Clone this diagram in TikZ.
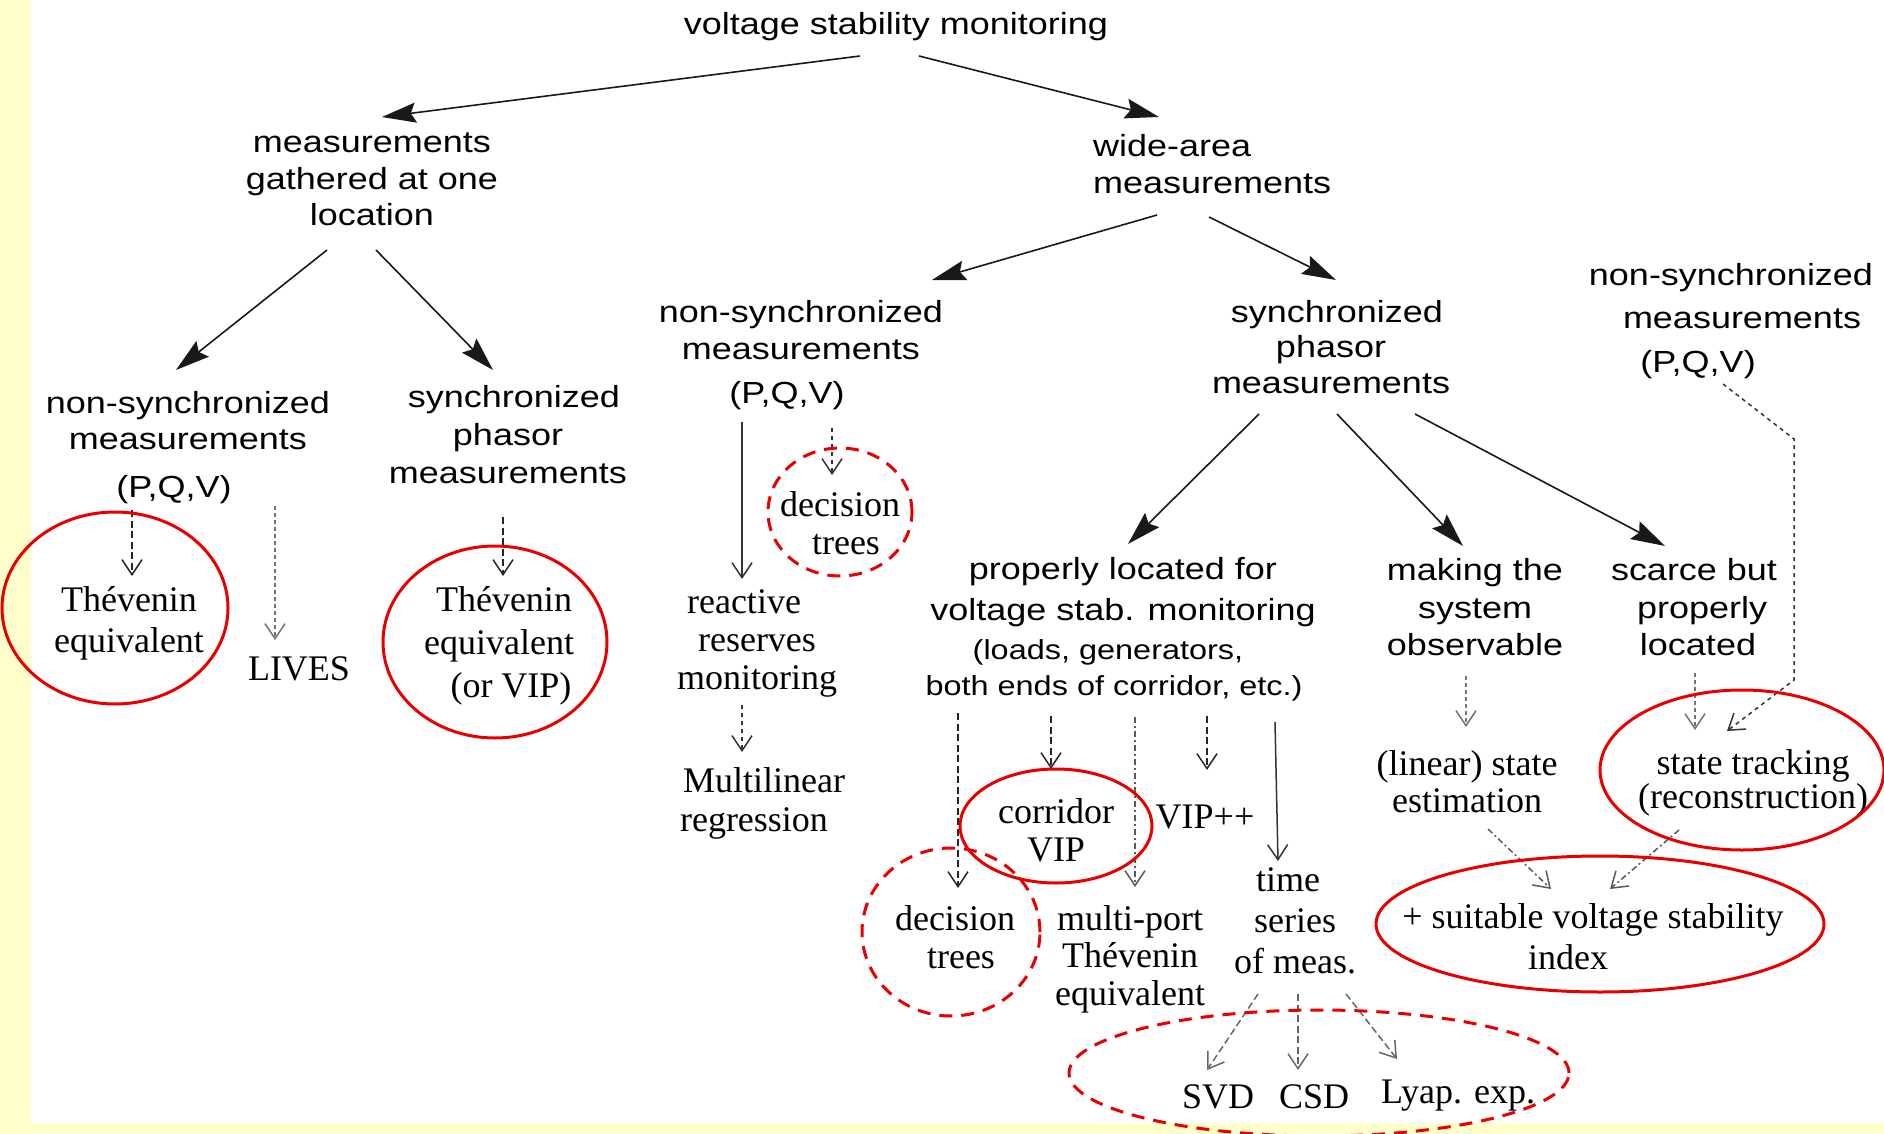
\documentclass[tikz,border=0pt]{standalone}
\usepackage{fontspec}
\setmainfont{Liberation Serif}
\newfontfamily\sansfam[FakeStretch=1.18]{Liberation Sans}
\usetikzlibrary{arrows.meta,calc}
\definecolor{paleyellow}{HTML}{FFFFCC}
\definecolor{ringred}{RGB}{232,0,0}

\begin{document}
\begin{tikzpicture}[x=1pt,y=-1pt,
  label base/.style={align=center, inner sep=0pt,
             execute at begin node=\strut, execute at end node=\strut},
  sn/.style={label base, font=\sansfam\fontsize{30.5}{#1}\selectfont},
  sn/.default=37,
  snsmall/.style={label base, font=\sansfam\fontsize{27.5}{#1}\selectfont},
  snsmall/.default=36,
  rm/.style={label base, font=\fontsize{36}{#1}\selectfont},
  rm/.default=39,
  tree/.style={draw=black!90, line width=1.6pt, -{Stealth[length=34pt,width=20pt,inset=5pt]}},
  lead/.style={line width=1.5pt, -{Straight Barb[length=15pt,width=20pt]}},
  dashedlead/.style={lead, draw=black!85, dash pattern=on 7pt off 3.5pt},
  dottedlead/.style={lead, draw=black!55, dash pattern=on 3.5pt off 3.5pt},
  finelead/.style={lead, draw=black!80, dash pattern=on 4pt off 4pt},
  dashdotlead/.style={lead, draw=black!65, dash pattern=on 6pt off 3pt on 2pt off 3pt},
  solidlead/.style={lead, draw=black!80},
  ring/.style={draw=ringred, line width=3pt},
  dashring/.style={ring, dash pattern=on 13pt off 9pt},
]
\useasboundingbox (0,0) rectangle (1884,1134);
\clip (0,0) rectangle (1884,1134);

% page background with the yellow frame on the left and at the bottom
\fill[paleyellow] (0,0) rectangle (1884,1134);
\fill[white] (31,0) rectangle (1884,1123);

% ---------- upper levels (sans serif) ----------
\node[sn] (title) at (896,27) {voltage stability monitoring};
\node[sn=36.5] (mg) at (372,185) {measurements\\gathered at one\\location};
\node[sn, align=left, anchor=west] (wa) at (1093,170) {wide-area\\measurements};
\node[sn=36] (ns1) at (188,450) {non-synchronized\\measurements\\[12pt](P,Q,V)\hspace*{28pt}};
\node[sn=38] (sp1) at (508,440) {\hspace*{12pt}synchronized\\phasor\hspace*{12pt}\\measurements};
\node[sn] (ns2) at (801,357) {non-synchronized\\measurements\\[7pt](P,Q,V)\hspace*{28pt}};
\node[sn=35.5] (sp2) at (1331,352) {\hspace*{12pt}synchronized\\phasor\hspace*{12pt}\\measurements};
\node[sn=43.5] (ns3) at (1731,324) {non-synchronized\\\hspace*{22pt}measurements\\(P,Q,V)\hspace*{66pt}};
\node[sn=41] (plo) at (1123,595) {properly located for\\voltage stab. monitoring};
\node[snsmall] (plonote) at (1114,673) {(loads, generators,\hspace*{12pt}\\both ends of corridor, etc.)};
\node[sn=37.5] (mso) at (1475,613) {making the\\system\\observable};
\node[sn=37.5] (sbp) at (1694,613) {scarce but\\\hspace*{16pt}properly\\\hspace*{8pt}located};

% ---------- methods (serif) ----------
\node[rm=41] (th1) at (129,626) {Thévenin\\equivalent};
\node[rm] (lives) at (299,673) {LIVES};
\node[rm=43] (th2) at (499,648) {\hspace*{10pt}Thévenin\\equivalent\\\hspace*{24pt}(or VIP)};
\node[rm=38] (dt1) at (840,529) {decision\\\hspace*{12pt}trees};
\node[rm=38] (rrm) at (757,645) {reactive\hspace*{26pt}\\reserves\hspace*{22pt}\\monitoring};
\node[rm] (ml) at (764,805) {Multilinear\\regression\hspace*{20pt}};
\node[rm=38] (cv) at (1056,836) {corridor\\VIP};
\node[rm] (vpp) at (1205,821) {VIP++};
\node[rm=38] (dt2) at (955,943) {decision\\\hspace*{12pt}trees};
\node[rm=37.5] (mpt) at (1130,961) {multi-port\\Thévenin\\equivalent};
\node[rm=41] (ts) at (1295,927) {time\hspace*{14pt}\\series\hspace*{20pt}\\of meas.};
\node[rm] (svd) at (1218,1101) {SVD};
\node[rm] (csd) at (1314,1101) {CSD};
\node[rm] (lyap) at (1458,1096) {Lyap. exp.};
\node[rm=37] (lse) at (1467,787) {(linear) state\\estimation};
\node[rm=32] (str) at (1753,784) {state tracking\\(reconstruction)};
\node[rm=41] (idx) at (1593,943) {+ suitable voltage stability\\index\hspace*{50pt}};

% ---------- tree arrows ----------
\draw[tree] ($(title)+(-36,29)$) -- ($(mg)+(10,-68)$);
\draw[tree] ($(title)+(23,29)$) -- ($(wa.west)+(66,-53)$);
\draw[tree] ($(mg)+(-45,65)$) -- ($(ns1)+(-12,-80)$);
\draw[tree] ($(mg)+(4,65)$) -- ($(sp1)+(-15,-70)$);
\draw[tree] ($(wa.west)+(64,45)$) -- ($(ns2)+(131,-77)$);
\draw[tree] ($(wa.west)+(116,47)$) -- ($(sp2)+(5,-72)$);
\draw[tree] ($(sp2)+(-72,62)$) -- ($(plo)+(5,-51)$);
\draw[tree] ($(sp2)+(6,62)$) -- ($(mso)+(-12,-67)$);
\draw[tree] ($(sp2)+(84,62)$) -- ($(sbp)+(-29,-67)$);

% ---------- leads to methods ----------
\draw[dashedlead] ($(ns1)+(-56,60)$) -- ($(th1)+(3,-50)$);
\draw[dottedlead] ($(ns1)+(87,56)$) -- ($(lives)+(-24,-33)$);
\draw[dashedlead] ($(sp1)+(-5,77)$) -- ($(th2)+(4,-72)$);
\draw[solidlead] ($(ns2)+(-59,65)$) -- ($(rrm)+(-15,-66)$);
\draw[finelead] ($(ns2)+(31,71)$) -- ($(dt1)+(-8,-54)$);
\draw[finelead] ($(rrm)+(-15,60)$) -- ($(ml)+(-22,-53)$);
\draw[dashedlead] ($(plonote)+(-156,40)$) -- ($(dt2)+(3,-55)$);
\draw[dashedlead] ($(plonote)+(-63,43)$) -- ($(cv)+(-5,-67)$);
\draw[dashdotlead] ($(plonote)+(21,44)$) -- ($(mpt)+(5,-74)$);
\draw[dashedlead] ($(plonote)+(93,43)$) -- ($(vpp)+(2,-51)$);
\draw[solidlead] ($(plonote)+(161,49)$) -- ($(ts)+(-17,-66)$);
\draw[dashedlead, draw=black!60] ($(ts)+(-37,67)$) -- ($(svd)+(-11,-31)$);
\draw[dashedlead, draw=black!60] ($(ts)+(3,67)$) -- ($(csd)+(-16,-31)$);
\draw[dashedlead, draw=black!60] ($(ts)+(51,67)$) -- ($(lyap)+(-61,-37)$);
\draw[dottedlead] ($(mso)+(-9,63)$) -- ($(lse)+(-1,-60)$);
\draw[dottedlead] ($(sbp)+(1,60)$) -- ($(str)+(-58,-54)$);
\coordinate (bendA) at (1794,439);
\coordinate (bendB) at (1794,680);
\draw[finelead] ($(ns3)+(-8,60)$) -- (bendA) -- (bendB) -- ($(str)+(-26,-53)$);
\draw[dashdotlead] ($(lse)+(21,42)$) -- ($(idx)+(-42,-54)$);
\draw[dashdotlead] ($(str)+(-74,46)$) -- ($(idx)+(17,-54)$);

% ---------- red highlight rings ----------
\draw[ring] (115,608) ellipse [x radius=113pt, y radius=96pt];
\draw[ring] (495,642) ellipse [x radius=112pt, y radius=96pt];
\draw[dashring] (840,512) ellipse [x radius=72pt, y radius=64pt];
\draw[ring] (1056,826) ellipse [x radius=96pt, y radius=57pt];
\draw[dashring] (951,932) ellipse [x radius=89pt, y radius=84pt];
\draw[dashring] (1319,1073) ellipse [x radius=250pt, y radius=63pt];
\draw[ring] (1742,770) ellipse [x radius=142pt, y radius=80pt];
\draw[ring] (1600,924) ellipse [x radius=224pt, y radius=68pt];
\end{tikzpicture}
\end{document}
